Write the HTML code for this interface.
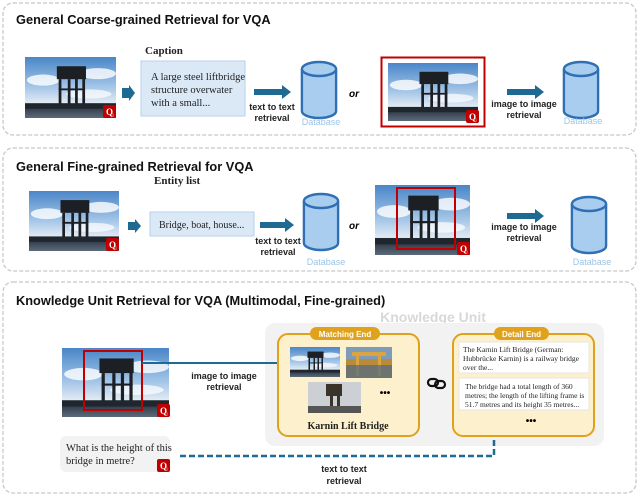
<!DOCTYPE html>
<html><head><meta charset="utf-8"><style>
html,body{margin:0;padding:0;background:#fff}
svg{display:block}
.t{font-family:"Liberation Sans",sans-serif;font-weight:bold;font-size:12.8px;fill:#111}
.s{font-family:"Liberation Serif",serif;fill:#222}
.l{font-family:"Liberation Sans",sans-serif;font-weight:bold;font-size:9px;fill:#222}
.db{font-family:"Liberation Sans",sans-serif;font-size:9px;fill:#9cc5e6}
</style></head><body>
<svg width="640" height="497" viewBox="0 0 640 497" xmlns="http://www.w3.org/2000/svg">
<defs>
<linearGradient id="sky" x1="0" y1="0" x2="0" y2="1">
<stop offset="0" stop-color="#4a86c8"/><stop offset="0.5" stop-color="#a6c7e8"/><stop offset="0.75" stop-color="#e2eaf3"/><stop offset="0.8" stop-color="#2a3340"/><stop offset="1" stop-color="#5b6a7a"/>
</linearGradient>
<symbol id="br" viewBox="0 0 100 66" preserveAspectRatio="none">
<rect width="100" height="66" fill="url(#sky)"/>
<ellipse cx="20" cy="25" rx="18" ry="6" fill="#fff" opacity="0.8"/>
<ellipse cx="80" cy="18" rx="20" ry="6" fill="#fff" opacity="0.8"/>
<ellipse cx="70" cy="40" rx="25" ry="5" fill="#fff" opacity="0.7"/>
<rect x="35" y="10" width="32" height="14" fill="#1c1f24"/>
<rect x="37" y="24" width="3" height="30" fill="#1c1f24"/>
<rect x="47" y="24" width="3" height="30" fill="#1c1f24"/>
<rect x="55" y="22" width="3" height="32" fill="#1c1f24"/>
<rect x="63" y="22" width="3" height="32" fill="#1c1f24"/>
<rect x="37" y="34" width="29" height="2" fill="#1c1f24"/>
<rect x="0" y="50" width="100" height="6" fill="#20262e"/>
</symbol>
<symbol id="cyl" viewBox="0 0 40 60" preserveAspectRatio="none">
<path d="M2 9 V51 A18 7 0 0 0 38 51 V9" fill="#a9cdef" stroke="#2f6fb3" stroke-width="2.5"/>
<ellipse cx="20" cy="9" rx="18" ry="7" fill="#a9cdef" stroke="#2f6fb3" stroke-width="2.5"/>
</symbol>
<symbol id="q" viewBox="0 0 13 13"><rect width="13" height="13" rx="2" fill="#c00000"/><text x="3" y="10" font-family="Liberation Serif" font-weight="bold" font-size="9" fill="#fff">Q</text><text x="9" y="11.5" font-family="Liberation Serif" font-size="4" fill="#fff">1</text></symbol>
<marker id="ah" markerWidth="6" markerHeight="6" refX="5" refY="3" orient="auto" markerUnits="userSpaceOnUse"><path d="M0 0 L6 3 L0 6z" fill="#1f6a93"/></marker>
</defs>

<rect x="3" y="3" width="633" height="132" rx="10" fill="none" stroke="#c8c8c8" stroke-width="1.3" stroke-dasharray="4,2"/>
<text x="16" y="24" class="t">General Coarse-grained Retrieval for VQA</text>
<use href="#br" x="25" y="57" width="91" height="61"/>
<use href="#q" x="103" y="105" width="13" height="13"/>
<path d="M122 88 h7 v-3 l6 8 -6 8 v-3 h-7z" fill="#1f6a93"/>
<text x="145" y="54" class="s" font-size="11" font-weight="bold">Caption</text>
<rect x="141" y="61" width="104" height="55" fill="#dbe9f7" stroke="#b5d2ee"/>
<text class="s" font-size="10.5"><tspan x="151" y="80">A large steel liftbridge</tspan><tspan x="151" y="93">structure overwater</tspan><tspan x="151" y="106">with a small...</tspan></text>
<path d="M254 89 h28 v-4 l9 7 -9 7 v-4 h-28z" fill="#1f6a93"/>
<text class="l" text-anchor="middle"><tspan x="272" y="110">text to text</tspan><tspan x="272" y="121">retrieval</tspan></text>
<use href="#cyl" x="300" y="60" width="38" height="60"/>
<text x="321" y="125" class="db" text-anchor="middle">Database</text>
<text x="349" y="97" font-family="Liberation Sans" font-weight="bold" font-style="italic" font-size="10">or</text>
<rect x="381.5" y="57.5" width="103" height="69" fill="#fff" stroke="#c00000" stroke-width="2"/>
<use href="#br" x="388" y="63" width="90" height="58"/>
<use href="#q" x="466" y="110" width="13" height="13"/>
<path d="M507 89 h28 v-4 l9 7 -9 7 v-4 h-28z" fill="#1f6a93"/>
<text class="l" text-anchor="middle"><tspan x="524" y="107">image to image</tspan><tspan x="524" y="118">retrieval</tspan></text>
<use href="#cyl" x="562" y="60" width="38" height="60"/>
<text x="583" y="124" class="db" text-anchor="middle">Database</text>

<rect x="3" y="148" width="633" height="123" rx="10" fill="none" stroke="#c8c8c8" stroke-width="1.3" stroke-dasharray="4,2"/>
<text x="16" y="171" class="t">General Fine-grained Retrieval for VQA</text>
<use href="#br" x="29" y="191" width="90" height="60"/>
<use href="#q" x="106" y="238" width="13" height="13"/>
<path d="M128 222 h7 v-3 l6 7 -6 7 v-3 h-7z" fill="#1f6a93"/>
<text x="154" y="184" class="s" font-size="11" font-weight="bold">Entity list</text>
<rect x="150" y="212" width="104" height="24" fill="#dbe9f7" stroke="#b5d2ee"/>
<text x="159" y="228" class="s" font-size="10">Bridge, boat, house...</text>
<path d="M260 222 h25 v-4 l9 7 -9 7 v-4 h-25z" fill="#1f6a93"/>
<text class="l" text-anchor="middle"><tspan x="278" y="244">text to text</tspan><tspan x="278" y="255">retrieval</tspan></text>
<use href="#cyl" x="302" y="192" width="38" height="60"/>
<text x="326" y="265" class="db" text-anchor="middle">Database</text>
<text x="349" y="229" font-family="Liberation Sans" font-weight="bold" font-style="italic" font-size="10">or</text>
<use href="#br" x="375" y="185" width="95" height="70"/>
<rect x="397" y="188" width="58" height="61" fill="none" stroke="#c00000" stroke-width="2"/>
<use href="#q" x="457" y="242" width="13" height="13"/>
<path d="M507 213 h28 v-4 l9 7 -9 7 v-4 h-28z" fill="#1f6a93"/>
<text class="l" text-anchor="middle"><tspan x="524" y="230">image to image</tspan><tspan x="524" y="241">retrieval</tspan></text>
<use href="#cyl" x="570" y="195" width="38" height="60"/>
<text x="592" y="265" class="db" text-anchor="middle">Database</text>

<rect x="3" y="282" width="633" height="211" rx="10" fill="none" stroke="#c8c8c8" stroke-width="1.3" stroke-dasharray="4,2"/>
<text x="16" y="305" class="t">Knowledge Unit Retrieval for VQA (Multimodal, Fine-grained)</text>
<text x="433" y="322" text-anchor="middle" font-family="Liberation Sans" font-size="14" font-weight="bold" fill="#d8d8d8">Knowledge Unit</text>
<rect x="265" y="323" width="339" height="123" rx="10" fill="#f2f2f2"/>
<use href="#br" x="62" y="348" width="107" height="69"/>
<rect x="84" y="351" width="58" height="59" fill="none" stroke="#c00000" stroke-width="2"/>
<use href="#q" x="157" y="404" width="13" height="13"/>
<line x1="142" y1="363" x2="289" y2="363" stroke="#1f6a93" stroke-width="2" marker-end="url(#ah)"/>
<text class="l" text-anchor="middle" font-size="9.5"><tspan x="224" y="379">image to image</tspan><tspan x="224" y="390">retrieval</tspan></text>
<rect x="60" y="436" width="110" height="36" rx="6" fill="#f2f2f2"/>
<text class="s" font-size="10.5"><tspan x="66" y="451">What is the height of this</tspan><tspan x="66" y="464">bridge in metre?</tspan></text>
<use href="#q" x="157" y="459" width="13" height="13"/>
<path d="M180 456 H494 V418" fill="none" stroke="#1f6a93" stroke-width="2.5" stroke-dasharray="6,3"/>
<path d="M489 420 L494 412 L499 420z" fill="#1f6a93"/>
<text class="l" text-anchor="middle" font-size="9.5"><tspan x="344" y="472">text to text</tspan><tspan x="344" y="484">retrieval</tspan></text>

<rect x="278" y="334" width="141" height="102" rx="10" fill="#fdf0cc" stroke="#e0a21c" stroke-width="2"/>
<rect x="310" y="327" width="70" height="13" rx="6.5" fill="#e0a21c"/>
<text x="345" y="337" text-anchor="middle" font-family="Liberation Sans" font-weight="bold" font-size="8" fill="#fff">Matching End</text>
<use href="#br" x="290" y="347" width="50" height="30"/>
<rect x="346" y="347" width="46" height="31" fill="#b88a3a"/><rect x="346" y="347" width="46" height="12" fill="#7e9bb8"/><rect x="352" y="352" width="34" height="4" fill="#d9a441"/><rect x="356" y="356" width="3" height="20" fill="#d9a441"/><rect x="378" y="356" width="3" height="20" fill="#d9a441"/><rect x="346" y="365" width="46" height="13" fill="#4d6a85" opacity="0.7"/>
<rect x="308" y="382" width="53" height="31" fill="#ccd0d5"/><rect x="326" y="384" width="16" height="12" fill="#3a332a"/><rect x="330" y="396" width="3" height="12" fill="#3a332a"/><rect x="337" y="396" width="3" height="12" fill="#3a332a"/><rect x="308" y="406" width="53" height="7" fill="#555"/>
<text x="385" y="396" text-anchor="middle" font-family="Liberation Sans" font-weight="bold" font-size="10">•••</text>
<text x="348" y="429" text-anchor="middle" class="s" font-size="10" font-weight="bold">Karnin Lift Bridge</text>

<g fill="none" stroke="#111" stroke-width="2.2"><rect x="428" y="379" width="10" height="7" rx="3.5"/><rect x="435" y="381" width="10" height="7" rx="3.5"/></g>

<rect x="453" y="334" width="141" height="102" rx="10" fill="#fdf0cc" stroke="#e0a21c" stroke-width="2"/>
<rect x="494" y="327" width="55" height="13" rx="6.5" fill="#e0a21c"/>
<text x="521.5" y="337" text-anchor="middle" font-family="Liberation Sans" font-weight="bold" font-size="8" fill="#fff">Detail End</text>
<rect x="459" y="342" width="130" height="31" fill="#fff" stroke="#e6e6e6"/>
<text class="s" font-size="7.5" fill="#333"><tspan x="463" y="352">The Karnin Lift Bridge (German:</tspan><tspan x="463" y="361">Hubbrücke Karnin) is a railway bridge</tspan><tspan x="463" y="370">over the...</tspan></text>
<rect x="459" y="378" width="130" height="32" fill="#fff" stroke="#e6e6e6"/>
<text class="s" font-size="7.5" fill="#333"><tspan x="465" y="389">The bridge had a total length of 360</tspan><tspan x="465" y="398">metres; the length of the lifting frame is</tspan><tspan x="465" y="407">51.7 metres and its height 35 metres...</tspan></text>
<text x="531" y="424" text-anchor="middle" font-family="Liberation Sans" font-weight="bold" font-size="10">•••</text>
</svg>
</body></html>
